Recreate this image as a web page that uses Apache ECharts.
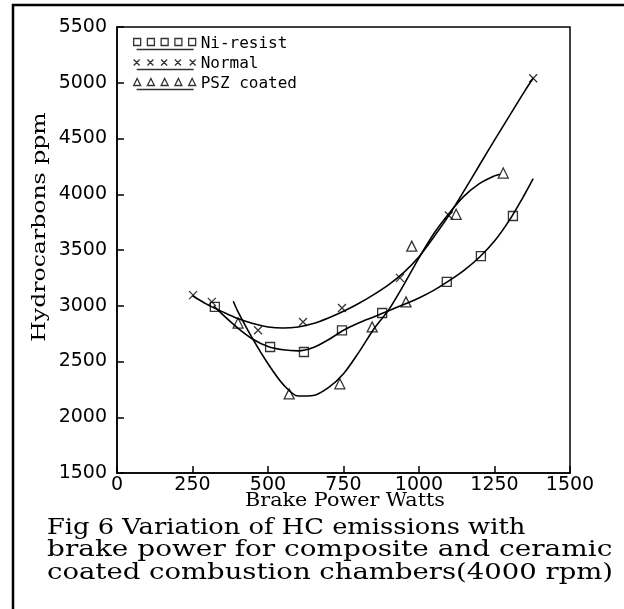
<!DOCTYPE html>
<html>
<head>
<meta charset="utf-8">
<script src="https://cdn.jsdelivr.net/npm/echarts@6/dist/echarts.min.js"></script>
<style>
  html, body { margin: 0; padding: 0; background: #fff; }
  #chart { width: 624px; height: 609px; }
</style>
</head>
<body>
<div id="chart"></div>
<script>
// measured points [brake power W, HC ppm]
var niPoints = [[324, 2990], [507, 2630], [619, 2585], [745, 2780], [878, 2935], [1092, 3215], [1205, 3445], [1311, 3805]];
var normalPoints = [[252, 3095], [314, 3035], [467, 2780], [616, 2855], [745, 2980], [937, 3250], [1099, 3810], [1378, 5040]];
var pszPoints = [[401, 2845], [570, 2210], [738, 2300], [845, 2810], [957, 3035], [976, 3535], [1123, 3820], [1279, 4190]];

// fitted curves
var niCurve = [[320, 3000], [350, 2920], [400, 2800], [450, 2700], [500, 2635], [550, 2605], [600, 2595], [650, 2625],
  [700, 2695], [750, 2780], [800, 2845], [850, 2900], [900, 2955], [950, 3012], [1000, 3070], [1050, 3140],
  [1100, 3225], [1150, 3320], [1200, 3435], [1250, 3580], [1300, 3770], [1350, 4000], [1378, 4140]];
var normalCurve = [[250, 3090], [300, 3010], [350, 2945], [400, 2885], [450, 2840], [500, 2810], [550, 2800], [600, 2810],
  [650, 2840], [700, 2890], [750, 2950], [800, 3020], [850, 3100], [900, 3190], [950, 3300], [1000, 3440],
  [1050, 3620], [1100, 3815], [1150, 4035], [1200, 4260], [1250, 4485], [1300, 4705], [1350, 4925], [1378, 5040]];
var pszCurve = [[385, 3040], [400, 2950], [450, 2700], [500, 2480], [550, 2295], [600, 2190], [650, 2195], [700, 2265],
  [750, 2390], [800, 2580], [850, 2790], [900, 2965], [950, 3190], [1000, 3430], [1050, 3650], [1100, 3830],
  [1150, 3985], [1200, 4095], [1250, 4165], [1268, 4180]];

var seriesNames = ['Ni-resist', 'Normal', 'PSZ coated'];
var xTitle = 'Brake Power Watts';
var yTitle = 'Hydrocarbons ppm';
var captionLines = ['Fig 6 Variation of HC emissions with', 'brake power for composite and ceramic', 'coated combustion chambers(4000 rpm)'];

// legend icons: five markers over a short line
var iconSquares = 'path://M0 0h7v7h-7z M13.75 0h7v7h-7z M27.5 0h7v7h-7z M41.25 0h7v7h-7z M55 0h7v7h-7z M3 11H60 M0 11h0.01 M62 11h0.01';
var iconCrosses = 'path://M0 1L6 7M6 1L0 7 M13.75 1L19.75 7M19.75 1L13.75 7 M27.5 1L33.5 7M33.5 1L27.5 7 M41.25 1L47.25 7M47.25 1L41.25 7 M56 1L62 7M62 1L56 7 M3 11H60 M0 0h0.01';
var iconTriangles = 'path://M0 7L3.5 0L7 7Z M13.75 7L17.25 0L20.75 7Z M27.5 7L31 0L34.5 7Z M41.25 7L44.75 0L48.25 7Z M55 7L58.5 0L62 7Z M3 11H60';

var chart = echarts.init(document.getElementById('chart'));

var curveStyle = { color: '#000', width: 1.6 };
var markStyle = { color: 'transparent', borderColor: '#000', borderWidth: 1.3 };

// the scanned caption is widely spaced, so stretch the serif text a bit
var captionStretch = [1.17, 1.27, 1.25];
var graphics = [
  // outer frame of the scanned figure
  { type: 'rect', z: -1, shape: { x: 13, y: 5, width: 700, height: 700 },
    style: { fill: 'none', stroke: '#000', lineWidth: 2.5 } },
  { type: 'text', x: 40, y: 227, rotation: Math.PI / 2, scaleX: 1.24,
    style: { text: yTitle, font: '19px "DejaVu Serif"', fill: '#000', align: 'center', verticalAlign: 'middle' } },
  { type: 'text', x: 345, y: 501, scaleX: 1.15,
    style: { text: xTitle, font: '18px "DejaVu Serif"', fill: '#000', align: 'center', verticalAlign: 'middle' } }
];
for (var i = 0; i < captionLines.length; i++) {
  graphics.push({ type: 'text', x: 47, y: 528 + i * 22.5, scaleX: captionStretch[i],
    style: { text: captionLines[i], font: '22px "DejaVu Serif"', fill: '#000', align: 'left', verticalAlign: 'middle' } });
}

var option = {
  backgroundColor: '#fff',
  animation: false,
  legend: {
    orient: 'vertical',
    left: 133,
    top: 36,
    padding: 0,
    itemWidth: 62,
    itemHeight: 11,
    itemGap: 4,
    itemStyle: { color: 'transparent', borderColor: '#000', borderWidth: 1.3 },
    textStyle: { fontFamily: 'DejaVu Sans Mono', fontSize: 16, lineHeight: 16, color: '#000' },
    data: [
      { name: seriesNames[0], icon: iconSquares },
      { name: seriesNames[1], icon: iconCrosses },
      { name: seriesNames[2], icon: iconTriangles }
    ]
  },
  grid: {
    left: 117, right: 54, top: 27, bottom: 136,
    show: true, borderColor: '#000', borderWidth: 1.5
  },
  xAxis: {
    type: 'value',
    min: 0, max: 1500, interval: 250,
    axisLine: { lineStyle: { color: '#000', width: 1.5 } },
    axisTick: { inside: true, length: 7, lineStyle: { color: '#000', width: 1.5 } },
    axisLabel: { margin: 3, fontFamily: 'DejaVu Sans', fontSize: 19, color: '#000',
      formatter: function (v) { return String(v); } },
    splitLine: { show: false }
  },
  yAxis: {
    type: 'value',
    min: 1500, max: 5500, interval: 500,
    axisLine: { show: true, lineStyle: { color: '#000', width: 1.5 } },
    axisTick: { show: true, inside: true, length: 7, lineStyle: { color: '#000', width: 1.5 } },
    axisLabel: { margin: 10, fontFamily: 'DejaVu Sans', fontSize: 19, color: '#000',
      formatter: function (v) { return String(v); } },
    splitLine: { show: false }
  },
  graphic: graphics,
  series: [
    { name: 'Ni-resist fit', type: 'line', data: niCurve, smooth: 0.3, showSymbol: false, lineStyle: curveStyle },
    { name: 'Normal fit', type: 'line', data: normalCurve, smooth: 0.3, showSymbol: false, lineStyle: curveStyle },
    { name: 'PSZ coated fit', type: 'line', data: pszCurve, smooth: 0.3, showSymbol: false, lineStyle: curveStyle },
    { name: seriesNames[0], type: 'scatter', data: niPoints, symbol: 'rect', symbolSize: 9, itemStyle: markStyle },
    { name: seriesNames[1], type: 'scatter', data: normalPoints, symbol: 'path://M0 0L10 10M10 0L0 10', symbolSize: 8, itemStyle: markStyle },
    { name: seriesNames[2], type: 'scatter', data: pszPoints, symbol: 'triangle', symbolSize: 10, itemStyle: markStyle }
  ]
};

chart.setOption(option);
</script>
</body>
</html>
